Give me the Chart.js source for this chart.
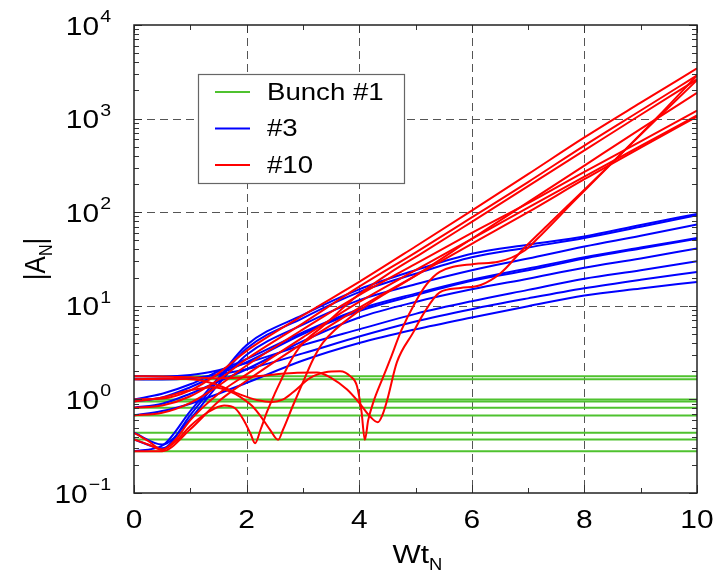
<!DOCTYPE html>
<html>
<head>
<meta charset="utf-8">
<script src="https://cdn.jsdelivr.net/npm/chart.js@4/dist/chart.umd.min.js"></script>
<style>
  html, body { margin: 0; padding: 0; background: #fff; }
</style>
</head>
<body>
<canvas id="chart" width="716" height="579"></canvas>
<script>
// Axis ticks
const xMajorTicks = [0, 2, 4, 6, 8, 10];
const xMinorTicks = [1, 3, 5, 7, 9];
const yDecades = [-1, 0, 1, 2, 3, 4];
const legendLabels = ['Bunch #1', '#3', '#10'];

// Bunch #1: constant amplitudes
const bunch1Levels = [1.77, 1.64, 1.0, 0.95, 0.815, 0.675, 0.44, 0.374, 0.28];

// Bunch #3: amplitudes sampled on a common Wt grid
const wtGrid = [0, 0.5, 1, 1.5, 2, 3, 4, 5, 6, 7, 8, 9, 10];
const bunch3a = [0.28, 0.32, 0.75, 1.7, 3.8, 8.0, 15, 24, 36, 45, 55, 73, 96];
const bunch3b = [0.374, 0.3, 0.68, 1.6, 3.5, 7.4, 14, 22, 33, 42, 53, 70, 93];
const bunch3c = [0.44, 0.33, 0.62, 1.45, 3.0, 6.3, 11.5, 17, 24, 32, 43, 56, 74];
const bunch3d = [1.0, 1.15, 1.45, 2.0, 2.7, 5.2, 9.2, 13.5, 19, 25, 33, 42, 53];
const bunch3e = [0.95, 1.05, 1.35, 1.85, 2.5, 5.0, 8.8, 13, 18.5, 24, 32, 41, 52];
const bunch3f = [0.815, 0.9, 1.15, 1.55, 2.1, 4.2, 7.5, 11, 15, 19.5, 25.5, 32, 41];
const bunch3g = [1.77, 1.76, 1.82, 2.05, 2.45, 3.8, 5.6, 8.2, 11.2, 14.8, 19.5, 24, 30];
const bunch3h = [1.64, 1.63, 1.68, 1.85, 2.1, 3.1, 4.7, 6.8, 9.2, 12, 15.4, 19, 23];
const bunch3i = [0.675, 0.75, 0.9, 1.15, 1.5, 2.6, 4.0, 5.6, 7.5, 9.9, 12.9, 15.3, 18];

// Bunch #10: [Wt, |A|] pairs (denser around the dips)
const bunch10a = [[0,1.0],[0.5,1.02],[1,1.25],[1.5,1.9],[2,3.3],[3,7.9],[4,18],[5,43],[6,104],[7,255],[8,630],[9,1480],[10,3440]];
const bunch10b = [[0,0.815],[0.5,0.86],[1,1.08],[1.5,1.62],[2,2.7],[3,6.5],[4,16],[5,37],[6,88],[7,210],[8,515],[9,1220],[10,2890]];
const bunch10c = [[0,0.675],[0.5,0.72],[1,0.92],[1.5,1.4],[2,2.3],[3,5.6],[4,13],[5,28],[6,60],[7,125],[8,270],[9,570],[10,1220]];
const bunch10d = [[0,0.374],[0.25,0.33],[0.5,0.29],[0.75,0.38],[1,0.6],[1.5,1.15],[2,1.85],[3,4.6],[4,11],[5,24],[6,52],[7,112],[8,240],[9,510],[10,1080]];
const bunch10e = [[0,0.28],[0.5,0.28],[1,0.48],[1.5,0.95],[2,1.58],[3,4.0],[4,9.5],[5,21],[6,46],[7,100],[8,225],[9,490],[10,1050]];
const bunch10f = [[0,0.44],[0.25,0.36],[0.5,0.29],[0.75,0.36],[1,0.52],[1.3,0.72],[1.6,0.86],[1.8,0.8],[1.95,0.6],[2.07,0.43],[2.15,0.34],[2.25,0.48],[2.36,0.73],[2.5,1.15],[2.6,1.55],[2.77,2.5],[2.97,3.8],[3.36,6.1],[3.96,12.7],[4.55,22.6],[5.13,37],[6,79],[7,190],[8,457],[9,1100],[10,2620]];
const bunch10g = [[0,0.95],[0.5,1.05],[1,1.25],[1.4,1.35],[1.7,1.22],[1.9,1.05],[2.1,0.85],[2.25,0.66],[2.42,0.47],[2.56,0.37],[2.65,0.48],[2.82,0.85],[3,1.52],[3.18,2.67],[3.36,4.06],[3.96,8.5],[5,21],[6,52],[7,128],[8,315],[9,775],[10,1890]];
const bunch10h = [[0,1.64],[0.6,1.66],[1.17,1.6],[1.53,1.39],[1.88,1.13],[2.2,0.98],[2.45,0.94],[2.65,1.0],[2.83,1.2],[3.13,1.7],[3.4,1.95],[3.66,2.0],[3.85,1.75],[3.96,1.39],[4.04,0.75],[4.1,0.37],[4.16,0.6],[4.25,0.93],[4.43,1.76],[4.55,2.67],[4.75,5.5],[5,11],[5.2,17],[5.43,23],[6.04,28],[6.47,29.5],[6.94,39],[7.15,51],[7.8,128],[8.5,340],[9.3,1040],[10,2890]];
const bunch10i = [[0,1.77],[0.5,1.76],[1,1.72],[1.5,1.68],[2,1.72],[2.5,1.85],[2.9,1.93],[3.25,1.94],[3.5,1.7],[3.78,1.28],[4,0.92],[4.19,0.66],[4.33,0.57],[4.42,0.7],[4.5,1.0],[4.67,2.5],[4.96,5.2],[5.13,8],[5.43,13.9],[5.8,15.5],[6.16,16.7],[6.5,22],[6.94,42],[7.4,78],[8.05,186],[8.9,590],[10,2570]];

const GREEN = '#4fc22f';
const BLUE = '#0000ff';
const RED = '#ff0000';
const FONT = '"Liberation Sans", Arial, sans-serif';
const SX = 1.15; // the original text is slightly wide

// Build datasets
const datasets = [];
bunch1Levels.forEach(level => {
  datasets.push({ data: [{ x: 0, y: level }, { x: 10, y: level }], borderColor: GREEN, order: 3 });
});
[bunch3a, bunch3b, bunch3c, bunch3d, bunch3e, bunch3f, bunch3g, bunch3h, bunch3i].forEach(series => {
  datasets.push({ data: wtGrid.map((x, i) => ({ x, y: series[i] })), borderColor: BLUE, order: 2 });
});
[bunch10a, bunch10b, bunch10c, bunch10d, bunch10e, bunch10f, bunch10g, bunch10h, bunch10i].forEach(series => {
  datasets.push({ data: series.map(([x, y]) => ({ x, y })), borderColor: RED, order: 1 });
});

function textW(ctx, text, size) {
  ctx.font = size + 'px ' + FONT;
  return ctx.measureText(text).width * SX;
}

function drawStretched(ctx, text, x, y, size, align, baseline) {
  ctx.save();
  ctx.font = size + 'px ' + FONT;
  ctx.translate(x, y);
  ctx.scale(SX, 1);
  ctx.textAlign = align;
  ctx.textBaseline = baseline || 'middle';
  ctx.fillText(text, 0, 0);
  ctx.restore();
}

const overlay = {
  id: 'overlay',
  beforeDatasetsDraw(chart) {
    const { ctx, chartArea: a, scales: { x, y } } = chart;
    ctx.save();
    ctx.strokeStyle = '#555';
    ctx.lineWidth = 1;
    ctx.setLineDash([8, 5]);
    xMajorTicks.slice(1, -1).forEach(v => {
      const px = Math.round(x.getPixelForValue(v)) + 0.5;
      ctx.beginPath(); ctx.moveTo(px, a.top); ctx.lineTo(px, a.bottom); ctx.stroke();
    });
    yDecades.slice(1, -1).forEach(d => {
      const py = Math.round(y.getPixelForValue(Math.pow(10, d))) + 0.5;
      ctx.beginPath(); ctx.moveTo(a.left, py); ctx.lineTo(a.right, py); ctx.stroke();
    });
    ctx.restore();
  },
  afterDatasetsDraw(chart) {
    const { ctx, chartArea: a, scales: { x, y } } = chart;
    ctx.save();
    ctx.setLineDash([]);

    // ticks, pointing inwards on all four sides
    ctx.strokeStyle = '#333';
    ctx.lineWidth = 1;
    const tickX = (v, len) => {
      const px = Math.round(x.getPixelForValue(v)) + 0.5;
      ctx.beginPath();
      ctx.moveTo(px, a.bottom); ctx.lineTo(px, a.bottom - len);
      ctx.moveTo(px, a.top); ctx.lineTo(px, a.top + len);
      ctx.stroke();
    };
    const tickY = (v, len) => {
      const py = Math.round(y.getPixelForValue(v)) + 0.5;
      ctx.beginPath();
      ctx.moveTo(a.left, py); ctx.lineTo(a.left + len, py);
      ctx.moveTo(a.right, py); ctx.lineTo(a.right - len, py);
      ctx.stroke();
    };
    xMajorTicks.forEach(v => tickX(v, 8));
    xMinorTicks.forEach(v => tickX(v, 5));
    yDecades.forEach(d => {
      tickY(Math.pow(10, d), 8);
      if (d < 4) for (let m = 2; m <= 9; m++) tickY(m * Math.pow(10, d), 5);
    });

    // frame
    ctx.strokeStyle = '#222';
    ctx.lineWidth = 1.5;
    ctx.strokeRect(a.left, a.top, a.right - a.left, a.bottom - a.top);

    // legend
    const lx = 198, ly = 74, lw = 206, lh = 109;
    ctx.fillStyle = '#fff';
    ctx.fillRect(lx, ly, lw, lh);
    ctx.strokeStyle = '#666';
    ctx.lineWidth = 1.2;
    ctx.strokeRect(lx + 0.5, ly + 0.5, lw, lh);
    [GREEN, BLUE, RED].forEach((c, i) => {
      const yy = 92 + i * 36.5;
      ctx.strokeStyle = c;
      ctx.lineWidth = 2;
      ctx.beginPath(); ctx.moveTo(215, yy); ctx.lineTo(250, yy); ctx.stroke();
      ctx.fillStyle = '#000';
      drawStretched(ctx, legendLabels[i], 267, yy + 1, 24, 'left');
    });

    // x tick labels
    ctx.fillStyle = '#000';
    xMajorTicks.forEach(v => {
      drawStretched(ctx, String(v), x.getPixelForValue(v), 521, 26, 'center');
    });

    // y tick labels: 10^d
    yDecades.forEach(d => {
      const py = y.getPixelForValue(Math.pow(10, d));
      const exp = d < 0 ? '\u2212' + Math.abs(d) : String(d);
      const we = textW(ctx, exp, 17);
      const right = 111;
      drawStretched(ctx, '10', right - we - 1, py + 9.5, 26, 'right', 'alphabetic');
      drawStretched(ctx, exp, right - we, py - 3, 17, 'left', 'alphabetic');
    });

    // x title: Wt_N
    const wWt = textW(ctx, 'Wt', 26), wN = textW(ctx, 'N', 16);
    const cx = (a.left + a.right) / 2 + 2;
    const sx0 = cx - (wWt + wN) / 2;
    drawStretched(ctx, 'Wt', sx0, 563, 26, 'left', 'alphabetic');
    drawStretched(ctx, 'N', sx0 + wWt, 570, 16, 'left', 'alphabetic');

    // y title: |A_N|
    ctx.save();
    ctx.translate(45, (a.top + a.bottom) / 2);
    ctx.rotate(-Math.PI / 2);
    ctx.scale(1, SX);
    ctx.font = '26px ' + FONT;
    const w1 = ctx.measureText('|A').width;
    ctx.font = '16px ' + FONT;
    const w2 = ctx.measureText('N').width;
    ctx.font = '26px ' + FONT;
    const w3 = ctx.measureText('|').width;
    let tx = -(w1 + w2 + w3) / 2;
    ctx.textBaseline = 'alphabetic';
    ctx.textAlign = 'left';
    ctx.fillText('|A', tx, 0);
    ctx.font = '16px ' + FONT;
    ctx.fillText('N', tx + w1, 6);
    ctx.font = '26px ' + FONT;
    ctx.fillText('|', tx + w1 + w2, 0);
    ctx.restore();

    ctx.restore();
  }
};

new Chart(document.getElementById('chart'), {
  type: 'line',
  data: { datasets },
  options: {
    responsive: false,
    animation: false,
    layout: { padding: { top: 25, right: 19, left: 0, bottom: 0 } },
    plugins: { legend: { display: false }, tooltip: { enabled: false } },
    elements: {
      point: { radius: 0 },
      line: { borderWidth: 2, cubicInterpolationMode: 'monotone', fill: false }
    },
    scales: {
      x: {
        type: 'linear', min: 0, max: 10,
        ticks: { display: false }, grid: { display: false }, border: { display: false },
        afterFit: s => { s.height = 86; }
      },
      y: {
        type: 'logarithmic', min: 0.1, max: 10000,
        ticks: { display: false }, grid: { display: false }, border: { display: false },
        afterFit: s => { s.width = 134; }
      }
    }
  },
  plugins: [overlay]
});
</script>
</body>
</html>
